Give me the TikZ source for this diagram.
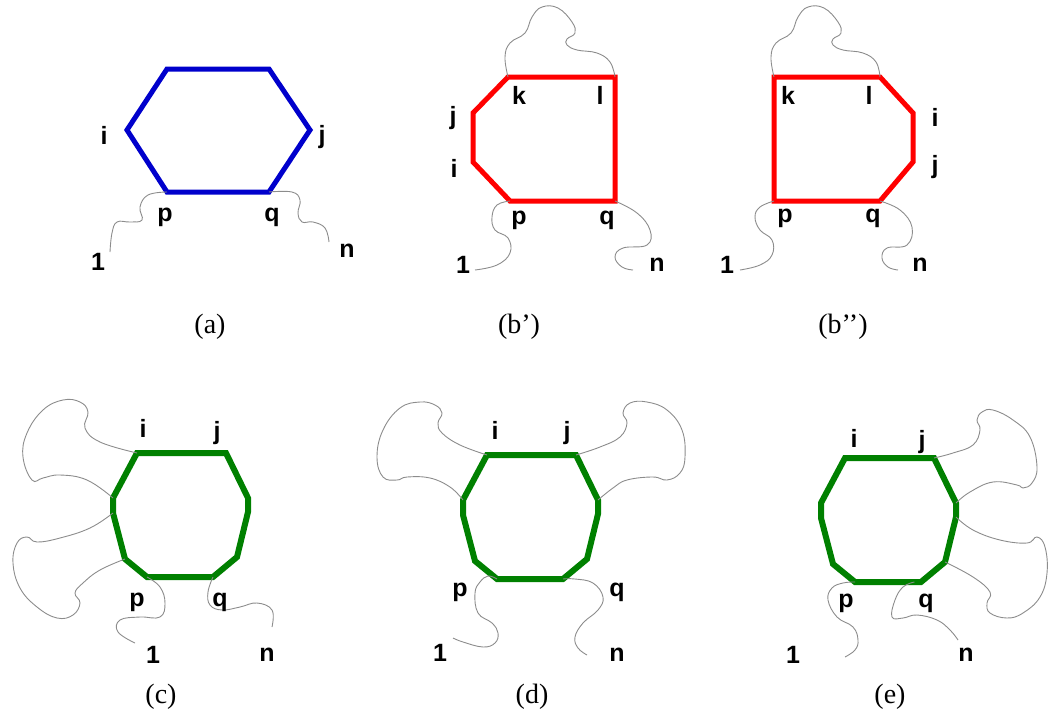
\documentclass[tikz,border=0pt]{standalone}
\usepackage{fontspec}
\setmainfont{Liberation Serif}
\setsansfont{Liberation Sans}
\usetikzlibrary{calc}

\begin{document}
\begin{tikzpicture}[
    x=1pt, y=-1pt,
    bluering/.style={draw=blue!80!black, line width=5pt},
    redring/.style={draw=red, line width=5pt},
    greenring/.style={draw=green!50!black, line width=6pt},
    wire/.style={draw=gray!90, line width=0.9pt},
    lbl/.style={font=\fontsize{25}{28}\selectfont\sffamily\bfseries, inner sep=0pt},
    captxt/.style={font=\fontsize{28}{32}\selectfont, inner sep=0pt}
]
\useasboundingbox (0,0) rectangle (1050,713);

% (a) hexagon
\draw[bluering] (167,69) coordinate (a-tl) -- (269,69) coordinate (a-tr)
    -- (310,130) coordinate (a-j) -- (269,192) coordinate (a-q)
    -- (167,192) coordinate (a-p) -- (127,130) coordinate (a-i) -- cycle;
\draw[wire] plot[smooth, tension=0.7] coordinates {(a-p) (148,195) (140,207) (142,220) (130,222) (117,222) (112,233) (110,252)};
\draw[wire] plot[smooth, tension=0.7] coordinates {(a-q) (292,192) (300,200) (298,213) (302,222) (313,222) (325,228) (329,242)};
\foreach \t/\x/\y in {i/104/135, j/322/137, p/165/217, q/272/217, 1/98/262, n/347/251}
    \node[lbl] (a-lbl\t) at (\x,\y) {\t};
\node[captxt] (a-cap) at (210,327) {(a)};

% (b') red
\draw[redring] (508,77) coordinate (bp-k) -- (615,77) coordinate (bp-l)
    -- (615,201) coordinate (bp-q) -- (510,201) coordinate (bp-p)
    -- (473,162) coordinate (bp-i) -- (473,113) coordinate (bp-j) -- cycle;
\draw[wire] plot[smooth, tension=0.7] coordinates {(bp-k) (505,57) (510,43) (525,33) (532,17) (542,7) (558,8) (572,22) (575,33) (567,39) (567,45) (577,50) (597,53) (610,62) (bp-l)};
\draw[wire] plot[smooth, tension=0.7] coordinates {(bp-p) (497,205) (492,217) (495,230) (508,238) (510,253) (497,265) (475,270)};
\draw[wire] plot[smooth, tension=0.7] coordinates {(bp-q) (637,213) (650,230) (647,245) (623,248) (615,257) (622,267) (633,270)};
\foreach \t/\x/\y in {k/519/95, l/600/95, j/453/118, i/454/168, p/519/220, q/607/220, 1/463/265, n/657/265}
    \node[lbl] (bp-lbl\t) at (\x,\y) {\t};
\node[captxt] (bp-cap) at (519,327) {(b’)};

% (b'') red
\draw[redring] (774,77) coordinate (bpp-k) -- (880,77) coordinate (bpp-l)
    -- (913,113) coordinate (bpp-i) -- (913,162) coordinate (bpp-j)
    -- (880,201) coordinate (bpp-q) -- (774,201) coordinate (bpp-p) -- cycle;
\draw[wire] plot[smooth, tension=0.7] coordinates {(bpp-k) (771,57) (776,43) (791,33) (798,17) (808,7) (824,8) (838,22) (841,33) (833,39) (833,45) (843,50) (863,53) (876,62) (bpp-l)};
\draw[wire] plot[smooth, tension=0.7] coordinates {(bpp-p) (760,207) (755,217) (760,230) (772,240) (772,255) (760,265) (740,270)};
\draw[wire] plot[smooth, tension=0.7] coordinates {(bpp-q) (900,210) (912,227) (907,245) (887,248) (882,258) (888,267) (898,270)};
\foreach \t/\x/\y in {k/788/95, l/869/95, i/935/117, j/935/167, p/785/218, q/873/218, 1/727/265, n/920/265}
    \node[lbl] (bpp-lbl\t) at (\x,\y) {\t};
\node[captxt] (bpp-cap) at (843,327) {(b’’)};

% green rings (c), (d), (e)
\foreach \pn/\dx/\dy in {c/0/0, d/350/2, e/708/5} {
    \begin{scope}[shift={(\dx,\dy)}]
        \draw[greenring] (137,453) coordinate (\pn-tl) -- (226,453) coordinate (\pn-tr)
            -- (248,498) coordinate (\pn-r1) -- (248,512) coordinate (\pn-r2)
            -- (237,557) coordinate (\pn-r3) -- (213,577) coordinate (\pn-br)
            -- (147,577) coordinate (\pn-bl) -- (125,559) coordinate (\pn-l3)
            -- (113,513) coordinate (\pn-l2) -- (113,498) coordinate (\pn-l1) -- cycle;
    \end{scope}
}

% (c) loops
\draw[wire] plot[smooth, tension=0.7] coordinates {(c-tl) (100,442) (85,428) (88,412) (80,402) (63,400) (43,410) (27,433) (23,457) (32,480) (43,478) (60,475) (87,480) (c-l1)};
\draw[wire] plot[smooth, tension=0.7] coordinates {(c-l2) (90,528) (60,538) (37,542) (27,537) (17,543) (13,563) (20,588) (37,607) (57,618) (73,615) (80,603) (75,593) (83,583) (100,570) (c-l3)};
\draw[wire] plot[smooth, tension=0.7] coordinates {(c-bl) (160,587) (165,603) (160,617) (140,617) (120,620) (118,632) (135,643)};
\draw[wire] plot[smooth, tension=0.7] coordinates {(c-br) (208,592) (210,605) (222,610) (240,607) (257,603) (272,610) (272,627)};
\foreach \t/\x/\y in {i/143/428, j/217/433, p/137/602, q/220/602, 1/153/655, n/267/655}
    \node[lbl] (c-lbl\t) at (\x,\y) {\t};
\node[captxt] (c-cap) at (161,697) {(c)};

% (d) loops
\draw[wire] plot[smooth, tension=0.7] coordinates {(d-tl) (460,445) (442,433) (438,423) (442,413) (435,405) (420,402) (400,408) (383,430) (377,457) (383,477) (397,480) (407,477) (430,478) (450,487) (d-l1)};
\draw[wire] plot[smooth, tension=0.7] coordinates {(d-tr) (600,447) (620,437) (627,423) (623,413) (630,403) (647,402) (667,410) (682,430) (685,457) (680,473) (667,480) (653,477) (627,480) (613,488) (d-r1)};
\draw[wire] plot[smooth, tension=0.7] coordinates {(d-bl) (488,576) (480,582) (475,593) (478,613) (492,623) (498,633) (495,643) (483,647) (463,642) (453,638)};
\draw[wire] plot[smooth, tension=0.7] coordinates {(d-br) (575,579) (593,583) (603,597) (598,610) (583,623) (575,637) (578,648) (587,655)};
\foreach \t/\x/\y in {i/495/430, j/567/433, p/460/592, q/617/592, 1/440/653, n/617/655}
    \node[lbl] (d-lbl\t) at (\x,\y) {\t};
\node[captxt] (d-cap) at (532,697) {(d)};

% (e) loops
\coordinate (e-mid) at ($(e-bl)!0.9!(e-br)$);
\draw[wire] plot[smooth, tension=0.7] coordinates {(e-tr) (953,453) (973,445) (980,430) (977,420) (982,412) (993,410) (1013,420) (1030,437) (1037,467) (1032,483) (1023,488) (1017,485) (993,482) (970,492) (e-r1)};
\draw[wire] plot[smooth, tension=0.7] coordinates {(e-r2) (973,530) (1000,540) (1027,543) (1037,537) (1045,547) (1047,573) (1040,597) (1023,613) (1007,618) (990,613) (987,603) (990,592) (973,577) (e-r3)};
\draw[wire] plot[smooth, tension=0.7] coordinates {(e-bl) (843,583) (832,588) (828,600) (837,617) (853,627) (858,640) (855,650) (845,657)};
\draw[wire] plot[smooth, tension=0.7] coordinates {(e-mid) (903,587) (895,600) (892,617) (903,618) (917,615) (937,620) (950,630) (958,640)};
\foreach \t/\x/\y in {i/854/438, j/922/442, p/846/603, q/926/603, 1/793/655, n/966/655}
    \node[lbl] (e-lbl\t) at (\x,\y) {\t};
\node[captxt] (e-cap) at (890,697) {(e)};

\end{tikzpicture}
\end{document}
